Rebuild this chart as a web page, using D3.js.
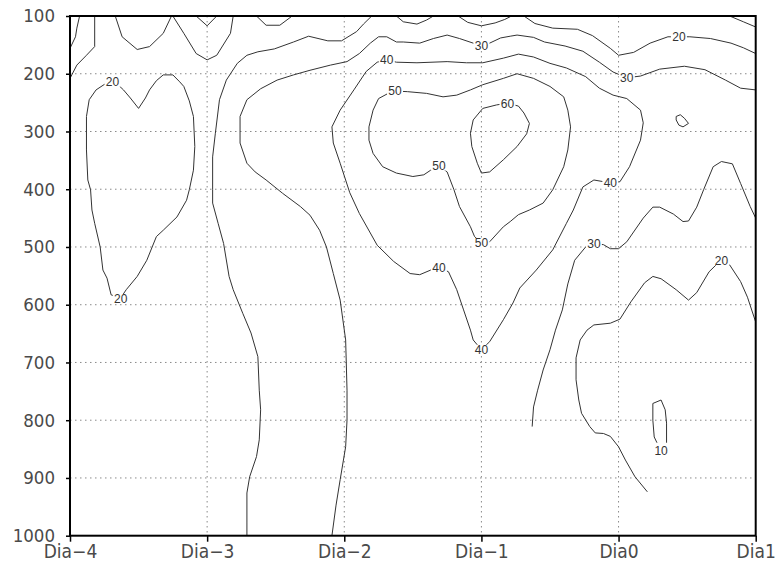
<!DOCTYPE html>
<html>
<head>
<meta charset="utf-8">
<script src="https://cdn.jsdelivr.net/npm/d3@7"></script>
<style>
	body { margin: 0; background: #fff; }
	.tick text { font-family: "DejaVu Sans Condensed", "Liberation Sans Narrow", "Liberation Sans", sans-serif; fill: #4a4a4a; }
	.clabel { font-family: "Liberation Sans", Arial, sans-serif; font-size: 12px; fill: #333; }
</style>
</head>
<body>
<div class="wrapper"></div>
<script>

// axis values
var days = [-4, -3, -2, -1, 0, 1];
var dayLabels = ["Dia\u22124", "Dia\u22123", "Dia\u22122", "Dia\u22121", "Dia0", "Dia1"];
var levels = [100, 200, 300, 400, 500, 600, 700, 800, 900, 1000];

// contour lines, each point is [day, hPa]
var c_corner_nw1 = [[-4.00,156],[-3.96,136],[-3.95,121],[-3.93,100]];
var c_corner_nw2 = [[-4.00,208],[-3.95,185],[-3.88,168],[-3.82,153],[-3.82,100]];
var c_top_a = [[-3.67,100],[-3.62,136],[-3.51,158],[-3.42,153],[-3.32,130],[-3.26,100]];
var c_top_b = [[-3.25,100],[-3.17,130],[-3.08,165],[-3.00,176],[-2.93,168],[-2.83,130],[-2.81,100]];
var c_top_c = [[-3.08,100],[-3.00,117],[-2.93,100]];
var c_top_d = [[-2.64,100],[-2.57,116],[-2.47,116],[-2.38,100]];
var c_top_e = [[-1.62,100],[-1.57,110],[-1.47,114],[-1.40,107],[-1.35,100]];
var c_top_f = [[-1.17,100],[-1.10,111],[-1.00,117],[-0.90,112],[-0.83,106],[-0.78,100]];
var c_corner_ne = [[0.81,100],[0.91,110],[1.00,119]];

var c20_west = [[-3.69,214],[-3.65,219],[-3.61,228],[-3.56,242],[-3.50,260],[-3.45,242],[-3.42,228],
	[-3.37,212],[-3.32,202],[-3.25,202],[-3.20,214],[-3.17,222],[-3.13,247],[-3.10,274],[-3.09,326],
	[-3.10,367],[-3.13,401],[-3.15,419],[-3.22,448],[-3.32,471],[-3.37,482],[-3.44,523],[-3.51,551],
	[-3.59,574],[-3.63,588],[-3.70,583],[-3.73,554],[-3.76,540],[-3.78,500],[-3.82,459],[-3.84,436],
	[-3.85,401],[-3.87,384],[-3.88,332],[-3.88,274],[-3.86,245],[-3.81,228],[-3.74,217],[-3.69,214]];

var c20_long = [[-2.71,1000],[-2.71,978],[-2.71,926],[-2.69,898],[-2.64,863],[-2.62,834],[-2.61,782],
	[-2.62,748],[-2.63,690],[-2.68,649],[-2.74,615],[-2.81,574],[-2.84,551],[-2.88,494],[-2.92,459],
	[-2.96,424],[-2.96,401],[-2.96,344],[-2.94,303],[-2.91,245],[-2.86,211],[-2.78,182],[-2.71,168],
	[-2.63,162],[-2.51,157],[-2.37,145],[-2.26,135],[-2.12,143],[-2.02,143],[-1.91,127],[-1.86,114],[-1.80,100]];

var c30_long = [[-2.09,1000],[-2.06,947],[-2.03,903],[-1.99,846],[-1.98,800],[-1.98,748],[-1.99,661],
	[-2.03,592],[-2.08,546],[-2.13,500],[-2.18,471],[-2.25,445],[-2.32,430],[-2.45,407],[-2.57,384],
	[-2.65,370],[-2.71,355],[-2.76,320],[-2.76,274],[-2.71,245],[-2.61,226],[-2.49,211],[-2.37,202],
	[-2.25,194],[-2.10,185],[-1.98,179],[-1.89,165],[-1.81,147],[-1.75,136],[-1.69,136],[-1.62,145],
	[-1.57,145],[-1.45,147],[-1.35,139],[-1.25,133],[-1.16,139],[-1.06,147],[-1.00,152],[-0.94,147],
	[-0.86,138],[-0.79,135],[-0.74,133],[-0.62,137],[-0.54,145],[-0.39,152],[-0.26,161],[-0.14,180],
	[-0.04,197],[0.06,207],[0.16,204],[0.30,192],[0.48,187],[0.63,193],[0.78,211],[0.89,225],[1.00,228]];

var c20_ne = [[-0.69,100],[-0.61,113],[-0.48,121],[-0.30,123],[-0.19,134],[-0.06,156],[0.00,168],
	[0.11,163],[0.23,147],[0.36,136],[0.44,136],[0.52,136],[0.67,139],[0.82,147],[0.91,155],[1.00,165]];

var c40_loop = [[-1.69,176],[-1.62,180],[-1.47,181],[-1.25,179],[-1.11,181],[-0.99,181],[-0.84,173],
	[-0.73,166],[-0.62,171],[-0.50,182],[-0.38,190],[-0.24,205],[-0.14,225],[-0.04,237],[0.06,243],
	[0.16,263],[0.18,285],[0.16,315],[0.08,361],[0.01,387],[-0.06,389],[-0.18,384],[-0.26,396],
	[-0.33,436],[-0.38,459],[-0.48,505],[-0.60,540],[-0.72,571],[-0.77,597],[-0.84,626],[-0.94,664],
	[-1.00,678],[-1.06,661],[-1.08,644],[-1.13,609],[-1.18,574],[-1.24,543],[-1.31,535],[-1.37,540],
	[-1.45,548],[-1.52,546],[-1.64,525],[-1.76,497],[-1.89,442],[-1.96,406],[-2.03,355],[-2.08,320],
	[-2.09,292],[-2.03,263],[-1.93,228],[-1.84,196],[-1.76,180],[-1.69,176]];

var c50_loop = [[-1.63,230],[-1.54,231],[-1.40,234],[-1.28,240],[-1.18,237],[-1.08,228],[-0.99,219],
	[-0.84,208],[-0.74,200],[-0.62,208],[-0.50,222],[-0.40,240],[-0.37,263],[-0.35,292],[-0.37,332],
	[-0.40,361],[-0.48,401],[-0.55,424],[-0.65,436],[-0.73,444],[-0.79,456],[-0.84,465],[-0.94,491],
	[-1.00,493],[-1.05,482],[-1.08,465],[-1.16,430],[-1.20,401],[-1.25,370],[-1.31,359],[-1.37,367],
	[-1.42,375],[-1.50,378],[-1.62,372],[-1.72,361],[-1.79,338],[-1.82,315],[-1.82,292],[-1.79,263],
	[-1.75,243],[-1.68,234],[-1.63,230]];

var c60_loop = [[-0.81,251],[-0.73,256],[-0.69,268],[-0.65,286],[-0.67,304],[-0.74,326],[-0.84,349],
	[-0.94,370],[-1.00,372],[-1.03,355],[-1.07,326],[-1.08,303],[-1.06,280],[-0.99,260],[-0.89,254],[-0.81,251]];

var c30_se = [[-0.63,811],[-0.62,777],[-0.59,748],[-0.55,713],[-0.50,678],[-0.46,644],[-0.41,609],
	[-0.37,564],[-0.32,523],[-0.24,500],[-0.18,494],[-0.11,496],[-0.06,503],[0.00,503],[0.06,491],
	[0.18,450],[0.25,431],[0.30,431],[0.40,443],[0.47,456],[0.51,455],[0.57,431],[0.62,401],[0.69,361],
	[0.75,352],[0.83,356],[0.89,390],[0.96,430],[1.00,450]];

var c20_se = [[0.21,924],[0.12,898],[0.05,869],[0.00,846],[-0.06,828],[-0.11,823],[-0.17,822],
	[-0.21,811],[-0.27,788],[-0.29,765],[-0.31,730],[-0.31,692],[-0.28,661],[-0.23,644],[-0.18,635],
	[-0.06,632],[0.01,625],[0.09,595],[0.19,562],[0.25,551],[0.31,555],[0.42,574],[0.51,592],[0.57,579],
	[0.66,543],[0.72,529],[0.75,523],[0.81,531],[0.89,560],[0.94,587],[1.00,630]];

var c_small_e = [[0.42,274],[0.45,271],[0.48,277],[0.51,286],[0.47,292],[0.44,289],[0.42,280],[0.42,274]];

var c10_loop = [[0.28,839],[0.26,829],[0.25,800],[0.25,771],[0.31,765],[0.34,782],[0.35,805],[0.35,839]];

var contourLines = [c_corner_nw1, c_corner_nw2, c_top_a, c_top_b, c_top_c, c_top_d, c_top_e, c_top_f,
	c_corner_ne, c20_west, c20_long, c30_long, c20_ne, c40_loop, c50_loop, c60_loop, c30_se, c20_se,
	c_small_e, c10_loop];

// contour labels: [value, day, hPa]
var contourLabels = [
	[20, -3.69, 214], [20, -3.63, 590], [30, -1.00, 152], [40, -1.69, 176], [50, -1.63, 230],
	[60, -0.81, 251], [50, -1.31, 359], [50, -1.00, 493], [40, -1.31, 535], [40, -1.00, 678],
	[40, -0.06, 389], [30, 0.06, 207], [20, 0.44, 136], [30, -0.18, 494], [20, 0.75, 523],
	[10, 0.31, 852]
];

var WIDTH = 775,
	HEIGHT = 570,
	LEFT = 70,
	RIGHT = 755.7,
	TOP = 16,
	BOTTOM = 535.7;

var x = d3.scaleLinear().domain([-4, 1]).range([LEFT, RIGHT]);
var y = d3.scaleLinear().domain([100, 1000]).range([TOP, BOTTOM]);

var svg = d3.select(".wrapper")
	.append("svg")
		.attr("width", WIDTH)
		.attr("height", HEIGHT);

// dotted grid
var grid = svg.append("g").attr("class", "grid");

grid.selectAll("line.gx")
	.data(days.slice(1, -1))
	.enter()
	.append("line")
		.attr("x1", function(d) { return x(d); })
		.attr("x2", function(d) { return x(d); })
		.attr("y1", TOP)
		.attr("y2", BOTTOM)
		.attr("stroke", "#8a8a8a")
		.attr("stroke-dasharray", "1.5,3.5");

grid.selectAll("line.gy")
	.data(levels.slice(1, -1))
	.enter()
	.append("line")
		.attr("x1", LEFT)
		.attr("x2", RIGHT)
		.attr("y1", function(d) { return y(d); })
		.attr("y2", function(d) { return y(d); })
		.attr("stroke", "#8a8a8a")
		.attr("stroke-dasharray", "1.5,3.5");

// contour lines
var line = d3.line()
	.x(function(d) { return x(d[0]); })
	.y(function(d) { return y(d[1]); });

svg.append("g")
	.selectAll("path")
	.data(contourLines)
	.enter()
	.append("path")
		.attr("d", line)
		.attr("fill", "none")
		.attr("stroke", "#333")
		.attr("stroke-width", 1);

// labels with a white gap behind them
var labels = svg.append("g")
	.selectAll("g")
	.data(contourLabels)
	.enter()
	.append("g")
		.attr("transform", function(d) { return "translate(" + x(d[1]) + "," + y(d[2]) + ")"; });

labels.append("rect")
	.attr("x", -8)
	.attr("y", -5)
	.attr("width", 16)
	.attr("height", 10)
	.attr("fill", "#fff");

labels.append("text")
	.attr("class", "clabel")
	.attr("text-anchor", "middle")
	.attr("dy", "0.36em")
	.text(function(d) { return d[0]; });

// axes
var xAxis = d3.axisBottom(x)
	.tickValues(days)
	.tickSize(6)
	.tickPadding(3)
	.tickFormat(function(d, i) { return dayLabels[i]; });

var yAxis = d3.axisLeft(y)
	.tickValues(levels)
	.tickSize(4)
	.tickPadding(11)
	.tickFormat(d3.format("d"));

var gx = svg.append("g")
	.attr("transform", "translate(0," + BOTTOM + ")")
	.call(xAxis);
gx.select(".domain").remove();
gx.selectAll(".tick line").attr("stroke", "#000").attr("stroke-width", 1.5);
gx.selectAll(".tick text").attr("font-size", "19px");

var gy = svg.append("g")
	.attr("transform", "translate(" + LEFT + ",0)")
	.call(yAxis);
gy.select(".domain").remove();
gy.selectAll(".tick line").attr("stroke", "#000").attr("stroke-width", 1.5);
gy.selectAll(".tick text").attr("font-size", "18.5px");

// frame
svg.append("rect")
	.attr("x", LEFT)
	.attr("y", TOP)
	.attr("width", RIGHT - LEFT)
	.attr("height", BOTTOM - TOP)
	.attr("fill", "none")
	.attr("stroke", "#000")
	.attr("stroke-width", 2);

</script>
</body>
</html>
